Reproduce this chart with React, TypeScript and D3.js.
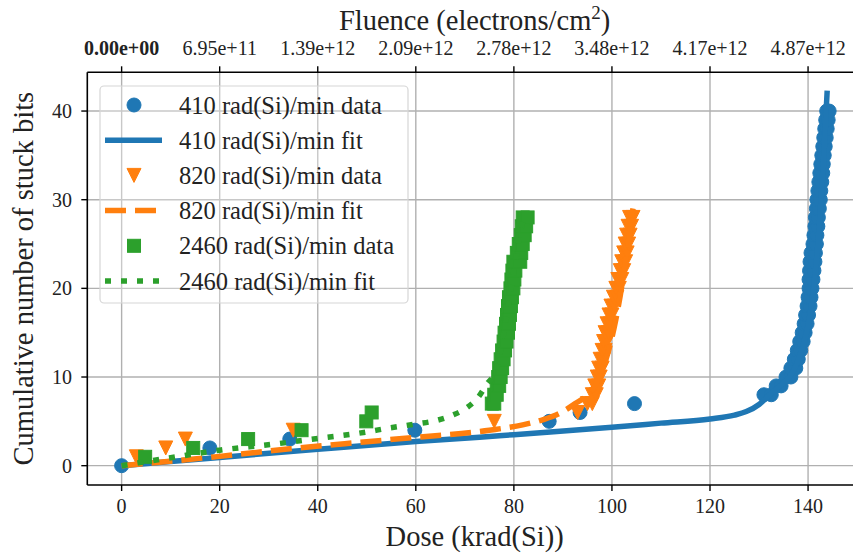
import React from 'react';
import * as d3 from 'd3';

// ---------- data ----------
const doseTicks = [0, 20, 40, 60, 80, 100, 120, 140];
const fluenceTickLabels = ['0.00e+00', '6.95e+11', '1.39e+12', '2.09e+12', '2.78e+12', '3.48e+12', '4.17e+12', '4.87e+12'];
const countTicks = [0, 10, 20, 30, 40];

const seriesNames = ['410 rad(Si)/min', '820 rad(Si)/min', '2460 rad(Si)/min'];
const seriesColors = ['#1f77b4', '#ff7f0e', '#2ca02c'];

const data410: [number, number][] = [
  [0, 0], [18, 2], [34.3, 3], [59.8, 4], [87.2, 5], [93.5, 6], [104.6, 7],
  [131, 8], [132.5, 8], [133.5, 9], [134.5, 9], [135.5, 10], [136.5, 10], [136.5, 11], [137.5, 11],
  [137.2, 12], [138, 12], [137.8, 13], [138.5, 13], [138.3, 14], [139, 14], [138.8, 15], [139.4, 15],
  [139.2, 16], [139.8, 16], [139.5, 17], [140.1, 17], [139.8, 18], [140.4, 18], [140, 19], [140.6, 19],
  [140.2, 20], [140.8, 20], [140.2, 21], [141, 21], [140.3, 22], [141.2, 22], [140.4, 23], [141.4, 23],
  [140.6, 24], [141.5, 24], [141, 25], [141.7, 25], [141.2, 26], [141.8, 26], [141.4, 27], [142, 27],
  [141.5, 28], [142.1, 28], [141.7, 29], [142.3, 29], [141.8, 30], [142.5, 30], [142, 31], [142.6, 31],
  [142.2, 32], [142.8, 32], [142.4, 33], [143, 33], [142.6, 34], [143.1, 34], [142.8, 35], [143.3, 35],
  [143, 36], [143.5, 36], [143.2, 37], [143.7, 37], [143.4, 38], [143.9, 38], [143.6, 39], [144.1, 39],
  [143.8, 40], [144.3, 40],
];
const fit410: [number, number][] = [
  [0, 0], [10, 0.47], [20, 0.93], [40, 1.85], [60, 2.72], [73, 3.2], [80, 3.5], [100, 4.33], [110, 4.8],
  [120, 5.27], [125, 5.7], [127.4, 6.1], [130, 6.9], [131.4, 7.6], [133, 8.4], [134.5, 9.1], [136.2, 10],
  [137.2, 10.9], [138.2, 12.2], [139.2, 13.9], [140, 15.8], [140.8, 18.5], [141.5, 21.8], [142.1, 25.5],
  [142.6, 29.5], [143.1, 33.8], [143.5, 38], [143.9, 42.3],
];

const data820: [number, number][] = [
  [3, 1], [9, 2], [13, 3], [35, 4], [76, 5], [93, 6],
  [95, 7], [96, 7], [96, 8], [96.8, 8], [96.5, 9], [97.3, 9], [97, 10], [97.6, 10], [97.3, 11], [98, 11],
  [97.6, 12], [98.3, 12], [98, 13], [98.6, 13], [98.3, 14], [99, 14], [98.6, 15], [99.3, 15],
  [99, 16], [99.7, 16], [99.4, 17], [100, 17], [99.8, 18], [100.5, 18], [100.3, 19], [101, 19],
  [100.8, 20], [101.5, 20], [101.2, 21], [102, 21], [101.7, 22], [102.4, 22], [102, 23], [102.8, 23],
  [102.4, 24], [103.1, 24], [102.7, 25], [103.4, 25], [103, 26], [103.7, 26], [103.3, 27], [104, 27],
  [103.6, 28], [104.3, 28],
];
const fit820: [number, number][] = [
  [0, 0], [20, 1.05], [34.3, 1.9], [50, 2.7], [60, 3.2], [75, 4.0], [81.8, 4.6], [86, 5.2], [89.3, 5.9],
  [92.5, 7], [95.4, 8.2], [97.5, 10], [98.8, 12], [99.8, 14], [100.8, 16.5], [101.7, 19.2], [102.5, 22],
  [103.3, 25], [104, 28], [104.3, 29],
];

const data2460: [number, number][] = [
  [4.8, 1], [14.6, 2], [25.8, 3], [36.7, 4], [49.9, 5], [51, 6],
  [75.5, 7], [76, 7], [76, 8], [76.5, 8], [76.5, 9], [77, 9], [76.8, 10], [77.3, 10], [77, 11], [77.6, 11],
  [77.3, 12], [77.9, 12], [77.6, 13], [78.2, 13], [77.9, 14], [78.5, 14], [78.1, 15], [78.8, 15],
  [78.4, 16], [79, 16], [78.6, 17], [79.2, 17], [78.8, 18], [79.4, 18], [79, 19], [79.6, 19],
  [79.3, 20], [79.9, 20], [79.5, 21], [80.1, 21], [79.7, 22], [80.3, 22], [79.9, 23], [81.3, 23],
  [80.6, 24], [81.5, 24], [81, 25], [81.8, 25], [81.4, 26], [82.2, 26], [81.6, 27], [82.5, 27],
  [81.8, 28], [82.8, 28],
];
const fit2460: [number, number][] = [
  [0, 0], [10, 0.9], [20, 1.75], [30.6, 2.4], [40.4, 3.1], [50, 3.8], [54, 4.2], [60, 4.7], [64.2, 5.1],
  [67.5, 5.7], [70.3, 6.5], [72.7, 7.7], [74.5, 9.2], [76.4, 10.8], [77.3, 13], [78.2, 15.8], [79, 18.5],
  [79.8, 21.2], [80.6, 24], [81.4, 26.5], [82.2, 28.5],
];

// ---------- layout ----------
const W = 853;
const H = 553;
const left = 87.3;
const right = 862;
const top = 72.3;
const bottom = 485;

const x = d3.scaleLinear().domain([-7, 151]).range([left, right]);
const y = d3.scaleLinear().domain([-2.18, 44.37]).range([bottom, top]);

const FONT = '"Liberation Serif", "DejaVu Serif", serif';

const lineGen = d3
  .line<[number, number]>()
  .x((d) => x(d[0]))
  .y((d) => y(d[1]))
  .curve(d3.curveMonotoneX);

const MS = 14;

function Circle({ cx, cy, color }: { cx: number; cy: number; color: string }) {
  return <circle cx={cx} cy={cy} r={MS / 2} fill={color} stroke={color} strokeWidth={1} />;
}
function Square({ cx, cy, color }: { cx: number; cy: number; color: string }) {
  const s = MS - 1;
  return <rect x={cx - s / 2} y={cy - s / 2} width={s} height={s} fill={color} stroke={color} strokeWidth={1} />;
}
function TriDown({ cx, cy, color }: { cx: number; cy: number; color: string }) {
  const h = MS / 2;
  const p = `M${cx - h},${cy - h}L${cx + h},${cy - h}L${cx},${cy + h}Z`;
  return <path d={p} fill={color} stroke={color} strokeWidth={1} strokeLinejoin="miter" />;
}

const markerComps = [Circle, TriDown, Square];
const dataSets = [data410, data820, data2460];
const fitSets = [fit410, fit820, fit2460];
const dashes = [undefined, '21 9', '6 10'];
const LW = 5.5;

export default function App() {
  const legendRows: { label: string; kind: 'data' | 'fit'; i: number }[] = [];
  seriesNames.forEach((n, i) => {
    legendRows.push({ label: `${n} data`, kind: 'data', i });
    legendRows.push({ label: `${n} fit`, kind: 'fit', i });
  });

  return (
    <svg
      width={W}
      height={H}
      style={{ position: 'absolute', left: 0, top: 0, background: '#fff' }}
      fontFamily={FONT}
    >
      <defs>
        <clipPath id="plotclip">
          <rect x={left} y={top} width={right - left} height={bottom - top} />
        </clipPath>
      </defs>
      <rect x={0} y={0} width={W} height={H} fill="#fff" />

      {/* grid */}
      <g stroke="#b0b0b0" strokeWidth={1.4}>
        {doseTicks.map((t) => (
          <line key={'gx' + t} x1={x(t)} x2={x(t)} y1={top} y2={bottom} />
        ))}
        {countTicks.map((t) => (
          <line key={'gy' + t} x1={left} x2={right} y1={y(t)} y2={y(t)} />
        ))}
      </g>

      {/* series */}
      <g clipPath="url(#plotclip)">
        {dataSets.map((ds, i) => {
          const M = markerComps[i];
          return (
            <g key={'s' + i}>
              {ds.map((d, j) => (
                <M key={j} cx={x(d[0])} cy={y(d[1])} color={seriesColors[i]} />
              ))}
              <path
                d={lineGen(fitSets[i]) || ''}
                fill="none"
                stroke={seriesColors[i]}
                strokeWidth={LW}
                strokeDasharray={dashes[i]}
              />
            </g>
          );
        })}
      </g>

      {/* spines */}
      <g stroke="#000" strokeWidth={1.6} fill="none">
        <line x1={left} x2={left} y1={top} y2={bottom} />
        <line x1={left} x2={right} y1={bottom} y2={bottom} />
        <line x1={left} x2={right} y1={top} y2={top} />
      </g>

      {/* bottom axis */}
      <g>
        {doseTicks.map((t) => (
          <g key={'bx' + t}>
            <line x1={x(t)} x2={x(t)} y1={bottom} y2={bottom + 6} stroke="#000" strokeWidth={1.4} />
            <text x={x(t)} y={513} textAnchor="middle" fontSize={20} fill="#222">
              {t}
            </text>
          </g>
        ))}
      </g>
      {/* top axis */}
      <g>
        {doseTicks.map((t, i) => (
          <g key={'tx' + t}>
            <line x1={x(t)} x2={x(t)} y1={top} y2={top - 6} stroke="#000" strokeWidth={1.4} />
            <text
              x={x(t)}
              y={54.5}
              textAnchor="middle"
              fontSize={20}
              fill="#222"
              fontWeight={i === 0 ? 'bold' : 'normal'}
            >
              {fluenceTickLabels[i]}
            </text>
          </g>
        ))}
      </g>
      {/* left axis */}
      <g>
        {countTicks.map((t) => (
          <g key={'ly' + t}>
            <line x1={left} x2={left - 6} y1={y(t)} y2={y(t)} stroke="#000" strokeWidth={1.4} />
            <text x={72} y={y(t) + 7} textAnchor="end" fontSize={20} fill="#222">
              {t}
            </text>
          </g>
        ))}
      </g>

      {/* axis titles */}
      <text x={(left + right) / 2} y={546} textAnchor="middle" fontSize={28.5} fill="#222">
        Dose (krad(Si))
      </text>
      <text x={(left + right) / 2} y={30} textAnchor="middle" fontSize={28.5} fill="#222">
        Fluence (electrons/cm
        <tspan dy={-11} fontSize={19}>
          2
        </tspan>
        <tspan dy={11}>)</tspan>
      </text>
      <text
        transform={`translate(33, ${(top + bottom) / 2}) rotate(-90)`}
        textAnchor="middle"
        fontSize={28.5}
        fill="#222"
      >
        Cumulative number of stuck bits
      </text>

      {/* legend */}
      <g>
        <rect x={100} y={86} width={308} height={217} rx={4} fill="#fff" fillOpacity={0.3} stroke="#d6d6d6" strokeWidth={1.2} />
        {legendRows.map((r, k) => {
          const cy = 105 + k * 35.2;
          const color = seriesColors[r.i];
          const M = markerComps[r.i];
          return (
            <g key={'lg' + k}>
              {r.kind === 'data' ? (
                <M cx={134} cy={cy} color={color} />
              ) : (
                <line
                  x1={105}
                  x2={162}
                  y1={cy}
                  y2={cy}
                  stroke={color}
                  strokeWidth={LW}
                  strokeDasharray={dashes[r.i]}
                />
              )}
              <text x={179} y={cy + 8.5} fontSize={24.5} fill="#222">
                {r.label}
              </text>
            </g>
          );
        })}
      </g>
    </svg>
  );
}
